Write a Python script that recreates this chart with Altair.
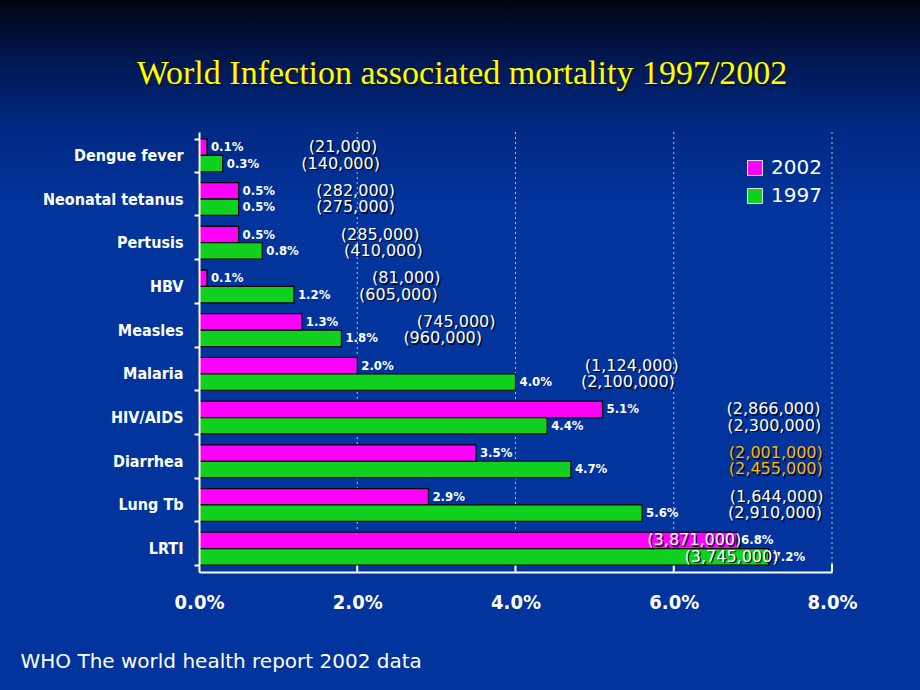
import altair as alt
import pandas as pd

categories = ["Dengue fever", "Neonatal tetanus", "Pertusis", "HBV", "Measles",
              "Malaria", "HIV/AIDS", "Diarrhea", "Lung Tb", "LRTI"]
years = ["2002", "1997"]
pct_2002 = [0.1, 0.5, 0.5, 0.1, 1.3, 2.0, 5.1, 3.5, 2.9, 6.8]
pct_1997 = [0.3, 0.5, 0.8, 1.2, 1.8, 4.0, 4.4, 4.7, 5.6, 7.2]
deaths_2002 = ["(21,000)", "(282,000)", "(285,000)", "(81,000)", "(745,000)",
               "(1,124,000)", "(2,866,000)", "(2,001,000)", "(1,644,000)", "(3,871,000)"]
deaths_1997 = ["(140,000)", "(275,000)", "(410,000)", "(605,000)", "(960,000)",
               "(2,100,000)", "(2,300,000)", "(2,455,000)", "(2,910,000)", "(3,745,000)"]
# where each death-count annotation sits, in % units of the x axis
label_at_2002 = [1.82, 1.98, 2.29, 2.62, 3.25, 5.47, 7.26, 7.29, 7.30, 6.26]
label_at_1997 = [1.79, 1.98, 2.33, 2.52, 3.08, 5.42, 7.27, 7.29, 7.28, 6.73]
x_ticks = [0, 2, 4, 6, 8]
grid_ticks = [2, 4, 6, 8]
highlight = "Diarrhea"
title_text = "World Infection associated mortality 1997/2002"

rows = []
for i, c in enumerate(categories):
    rows.append({"category": c, "year": "2002", "pct": pct_2002[i],
                 "deaths": deaths_2002[i], "label_x": label_at_2002[i]})
    rows.append({"category": c, "year": "1997", "pct": pct_1997[i],
                 "deaths": deaths_1997[i], "label_x": label_at_1997[i]})
df = pd.DataFrame(rows)
grid_df = pd.DataFrame({"t": grid_ticks})

W, H = 633, 440
NARROW = "Liberation Sans Narrow, DejaVu Sans Condensed, sans-serif"

x_scale = alt.Scale(domain=[0, 8], nice=False, zero=True)
x_axis = alt.Axis(values=x_ticks, labelExpr="format(datum.value, '.1f') + '%'",
                  grid=False, ticks=False, domainColor="white", domainWidth=2,
                  labelColor="white", labelFont=NARROW, labelFontSize=20,
                  labelFontWeight="bold", labelPadding=20, labelFlush=False,
                  zindex=1,
                  title="WHO The world health report 2002 data",
                  titleFont="DejaVu Sans", titleFontSize=20, titleFontWeight="normal",
                  titleColor="white", titleAnchor="start", titleAlign="left",
                  titleBaseline="middle", titleX=-179, titleY=89)
y_enc = alt.Y("category:N", sort=categories,
              scale=alt.Scale(paddingInner=0.25, paddingOuter=0.16),
              axis=alt.Axis(title=None, labelColor="white", labelFont=NARROW,
                            labelFontSize=16, labelFontWeight="bold",
                            domainColor="white", domainWidth=2, tickColor="white",
                            tickWidth=2, tickSize=5, tickBand="extent",
                            labelPadding=11, zindex=1))
yoff = alt.YOffset("year:N", sort=years,
                   scale=alt.Scale(domain=years, paddingInner=0, paddingOuter=0))

bg = alt.Chart(alt.Data(values=[{}])).mark_rect(
    fill=alt.LinearGradient(
        gradient="linear", x1=0, x2=0, y1=0, y2=1,
        stops=[alt.GradientStop(color="#00040f", offset=0),
               alt.GradientStop(color="#001a5a", offset=0.1),
               alt.GradientStop(color="#002a85", offset=0.19),
               alt.GradientStop(color="#01349c", offset=0.3),
               alt.GradientStop(color="#01349c", offset=1)])
).encode(x=alt.value(-199), x2=alt.value(721), y=alt.value(-132), y2=alt.value(558))

title_data = alt.Data(values=[{"t": title_text}])
title_shadow = alt.Chart(title_data).mark_text(
    font="Liberation Serif", fontSize=34, color="#141400", align="center",
    baseline="alphabetic").encode(x=alt.value(265), y=alt.value(-46), text="t:N")
title = alt.Chart(title_data).mark_text(
    font="Liberation Serif", fontSize=34, color="#ffff00", align="center",
    baseline="alphabetic").encode(x=alt.value(263), y=alt.value(-48), text="t:N")

grid = alt.Chart(grid_df).mark_rule(color="white", strokeDash=[2, 3], opacity=0.7,
                                    strokeWidth=1).encode(
    x=alt.X("t:Q", scale=x_scale, axis=x_axis), y=alt.value(0), y2=alt.value(H))

bticks = alt.Chart(grid_df).mark_rule(color="white", strokeWidth=2).encode(
    x=alt.X("t:Q", scale=x_scale, axis=x_axis), y=alt.value(H - 8), y2=alt.value(H))

base = alt.Chart(df)

bars = base.mark_bar(stroke="black", strokeWidth=1.2).encode(
    x=alt.X("pct:Q", scale=x_scale, axis=x_axis),
    y=y_enc, yOffset=yoff,
    color=alt.Color("year:N", sort=years,
                    scale=alt.Scale(domain=years, range=["#ff00ff", "#10d020"]),
                    legend=alt.Legend(title=None, orient="none", legendX=546, legendY=26,
                                      symbolType="square", symbolSize=225,
                                      symbolStrokeColor="#e0e0e0", symbolStrokeWidth=1,
                                      symbolOpacity=1,
                                      labelColor="white", labelFont="DejaVu Sans",
                                      labelFontSize=20, labelOffset=6, rowPadding=8,
                                      padding=0, zindex=1)))

pct_labels = base.transform_calculate(
    plabel="format(datum.pct, '.1f') + '%'"
).mark_text(align="left", baseline="middle", dx=4, font=NARROW, fontSize=13,
            fontWeight="bold", color="white").encode(
    x=alt.X("pct:Q", scale=x_scale, axis=x_axis), y=y_enc, yOffset=yoff,
    text="plabel:N")

count_shadow = base.mark_text(align="center", baseline="middle", dx=1.5, dy=1.5,
                              font="DejaVu Sans", fontSize=16, color="black",
                              opacity=0.8).encode(
    x=alt.X("label_x:Q", scale=x_scale, axis=x_axis), y=y_enc, yOffset=yoff,
    text="deaths:N")

count_labels = base.mark_text(align="center", baseline="middle",
                              font="DejaVu Sans", fontSize=16).encode(
    x=alt.X("label_x:Q", scale=x_scale, axis=x_axis), y=y_enc, yOffset=yoff,
    text="deaths:N",
    color=alt.condition(alt.datum.category == highlight,
                        alt.value("#ffb400"), alt.value("white")))

chart = alt.layer(bg, title_shadow, title, grid, bticks, bars, pct_labels,
                  count_shadow, count_labels).properties(
    width=W, height=H,
    autosize=alt.AutoSizeParams(type="none"),
    padding={"left": 199, "top": 132, "right": 88, "bottom": 118},
).configure(background="#01349c").configure_view(stroke=None)

chart.save("out.html", embed_options={"renderer": "svg", "actions": False})
